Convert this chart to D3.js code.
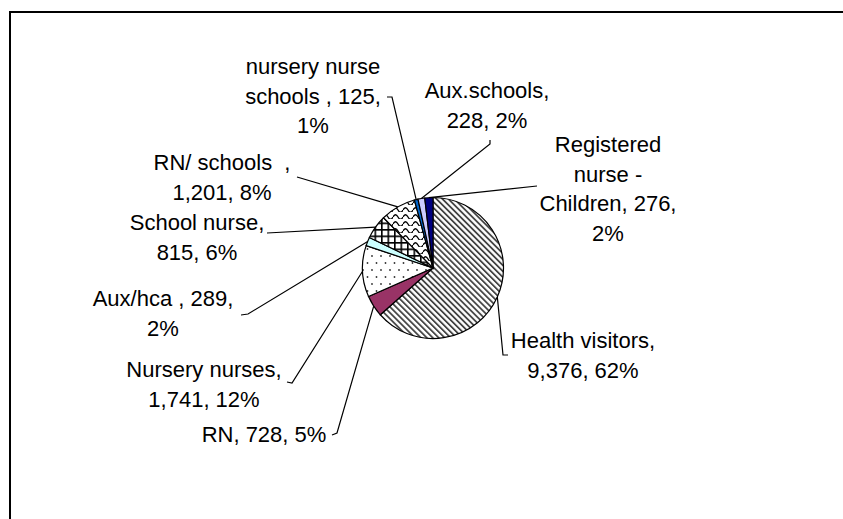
<!DOCTYPE html>
<html>
<head>
<meta charset="utf-8">
<script src="https://cdn.jsdelivr.net/npm/d3@7"></script>
<style>
body { margin: 0; background: #fff; }
svg { display: block; }
.lbl { font-family: "Liberation Sans", Arial, sans-serif; font-size: 22px; fill: #000; white-space: pre; }
</style>
</head>
<body>
<svg></svg>
<script>
// pie data, clockwise from 12 o'clock
const categories = ["Health visitors", "RN", "Nursery nurses", "Aux/hca ", "School nurse",
    "RN/ schools  ", "nursery nurse schools ", "Aux.schools", "Registered nurse - Children"];
const values = [9376, 728, 1741, 289, 815, 1201, 125, 228, 276];
const percents = [62, 5, 12, 2, 6, 8, 1, 2, 2];

const WIDTH = 843;
const HEIGHT = 519;
const CENTER = {x: 433, y: 268};
const RADIUS = 70.5;

// fills per slice (pattern ids or colours)
const FILLS = ['url(#diag)', '#993366', 'url(#dots)', '#CCFFFF', 'url(#grid)',
    'url(#wave)', '#0066CC', '#CCCCFF', '#000080'];

// label placement: centre x, first baseline, wrap width, leader points on label side
const LABEL_POS = [
    {cx: 583, y: 348, wrap: 160, leader: [[508, 355], [503, 355]]},
    {cx: 264, y: 442, wrap: 200, leader: [[332, 435], [337, 433]]},
    {cx: 204, y: 377, wrap: 160, leader: [[287, 382], [292, 383]]},
    {cx: 163, y: 306, wrap: 150, leader: [[241, 315], [248, 314]]},
    {cx: 197, y: 230, wrap: 140, leader: [[267, 233]]},
    {cx: 222, y: 170, wrap: 145, leader: [[297, 177]]},
    {cx: 313, y: 74, wrap: 145, leader: [[387, 97], [392, 97]]},
    {cx: 487, y: 98, wrap: 135, leader: [[490, 140], [490, 144]]},
    {cx: 608, y: 152, wrap: 145, leader: [[537, 186]]}
];
const LINE_H = 29.5;

const svg = d3.select('svg')
.attr('width', WIDTH)
.attr('height', HEIGHT);

const defs = svg.append('defs');

// wide downward diagonal
const diag = defs.append('pattern')
.attr('id', 'diag')
.attr('patternUnits', 'userSpaceOnUse')
.attr('width', 4.2).attr('height', 4.2)
.attr('patternTransform', 'rotate(-45)');
diag.append('rect').attr('width', 4.2).attr('height', 4.2).attr('fill', '#fff');
diag.append('rect').attr('width', 1.8).attr('height', 4.2).attr('fill', '#444');

// sparse dots
const dots = defs.append('pattern')
.attr('id', 'dots')
.attr('patternUnits', 'userSpaceOnUse')
.attr('width', 9).attr('height', 14);
dots.append('rect').attr('width', 9).attr('height', 14).attr('fill', '#fff');
dots.append('circle').attr('cx', 2).attr('cy', 2).attr('r', 0.9).attr('fill', '#333');
dots.append('circle').attr('cx', 6.5).attr('cy', 9).attr('r', 0.9).attr('fill', '#333');

// large grid
const grid = defs.append('pattern')
.attr('id', 'grid')
.attr('patternUnits', 'userSpaceOnUse')
.attr('width', 6.5).attr('height', 6.5);
grid.append('rect').attr('width', 6.5).attr('height', 6.5).attr('fill', '#fff');
grid.append('path').attr('d', 'M0,0.8H6.5M0.8,0V6.5').attr('stroke', '#000').attr('stroke-width', 1.6);

// wave
const wave = defs.append('pattern')
.attr('id', 'wave')
.attr('patternUnits', 'userSpaceOnUse')
.attr('width', 10).attr('height', 7);
wave.append('rect').attr('width', 10).attr('height', 7).attr('fill', '#fff');
wave.append('path').attr('d', 'M0,5 Q2.5,0.5 5,5 T10,5').attr('fill', 'none').attr('stroke', '#000').attr('stroke-width', 1.3);

//frame
svg.append('rect')
.attr('x', 10).attr('y', 12)
.attr('width', 1000).attr('height', 700)
.attr('fill', 'none')
.attr('stroke', '#000')
.attr('stroke-width', 2);

const pie = d3.pie().sort(null).value(d => d);
const arcs = pie(values);
const arc = d3.arc().innerRadius(0).outerRadius(RADIUS);
const edge = d3.arc().innerRadius(RADIUS).outerRadius(RADIUS);

const chart = svg.append('g')
.attr('transform', `translate(${CENTER.x}, ${CENTER.y})`);

//draw slices
chart.selectAll('.slice')
.data(arcs)
.enter()
.append('path')
.classed('slice', true)
.attr('d', arc)
.attr('fill', (d, i) => FILLS[i])
.attr('stroke', '#000')
.attr('stroke-width', 1.2);

//leader lines
const line = d3.line();
svg.selectAll('.leader')
.data(arcs)
.enter()
.append('path')
.classed('leader', true)
.attr('d', (d, i) => {
    const c = edge.centroid(d);
    return line(LABEL_POS[i].leader.concat([[CENTER.x + c[0], CENTER.y + c[1]]]));
})
.attr('fill', 'none')
.attr('stroke', '#000')
.attr('stroke-width', 1.2);

//labels, wrapped greedily by width
const fmt = d3.format(',');
const measure = svg.append('text').classed('lbl', true).attr('visibility', 'hidden');
function textWidth(s) {
    measure.text(s);
    return measure.node().getComputedTextLength();
}
function wrap(str, w) {
    const words = str.split(/ (?=\S)/);
    const lines = [];
    let cur = '';
    words.forEach(wd => {
        const next = cur === '' ? wd : cur + ' ' + wd;
        if (cur !== '' && textWidth(next) > w) {
            lines.push(cur);
            cur = wd;
        } else {
            cur = next;
        }
    });
    lines.push(cur);
    return lines;
}

categories.forEach((cat, i) => {
    const p = LABEL_POS[i];
    const str = `${cat}, ${fmt(values[i])}, ${percents[i]}%`;
    const t = svg.append('text')
    .classed('lbl', true)
    .attr('text-anchor', 'middle');
    wrap(str, p.wrap).forEach((ln, k) => {
        t.append('tspan')
        .attr('x', p.cx)
        .attr('y', p.y + k * LINE_H)
        .text(ln);
    });
});
measure.remove();
</script>
</body>
</html>
